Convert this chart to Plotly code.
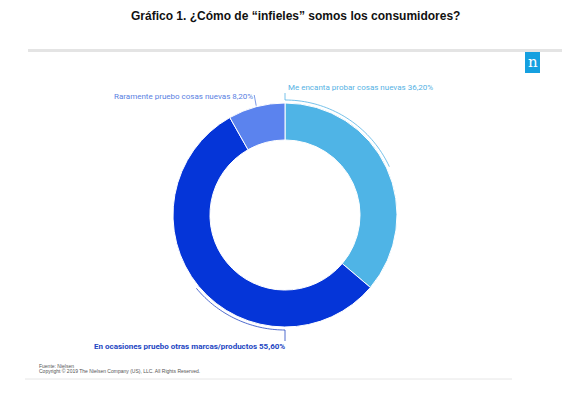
import math
import plotly.graph_objects as go

# ---- data ----
labels = ["Me encanta probar cosas nuevas", "En ocasiones pruebo otras marcas/productos", "Raramente pruebo cosas nuevas"]
values = [36.2, 55.6, 8.2]
value_text = ["36,20%", "55,60%", "8,20%"]
colors = ["#4FB4E6", "#0535D8", "#5B83EE"]
label_colors = ["#56B2E4", "#2346C2", "#5A7FE2"]
title = "Gráfico 1. ¿Cómo de “infieles” somos los consumidores?"
source = "Fuente: Nielsen"
copyright_txt = "Copyright © 2019 The Nielsen Company (US), LLC. All Rights Reserved."

# page body has an 8px default margin: the figure canvas starts at (8, 8)
OFF = 8
W, H = 588 - OFF, 394 - OFF
CX, CY, R = 285, 215, 112
HOLE = 0.67


def px(x):
    return (x - OFF) / W


def py(y):
    return 1 - (y - OFF) / H


fig = go.Figure()
fig.add_trace(go.Pie(
    labels=labels, values=values, sort=False, direction="clockwise", rotation=0,
    hole=HOLE, textinfo="none", hoverinfo="label+percent",
    marker=dict(colors=colors, line=dict(color="white", width=1)),
    domain=dict(x=[px(CX - R), px(CX + R)], y=[py(CY + R), py(CY - R)]),
    showlegend=False,
))

# slice angles (clockwise from 12 o'clock, degrees)
total = sum(values)
mids = []
acc = 0
for v in values:
    mids.append((acc + v / 2) / total * 360)
    acc += v


def pt(angle, r):
    a = math.radians(angle)
    return CX + r * math.sin(a), CY - r * math.cos(a)


def arc_path(a0, a1, r, extra=None):
    n = 40
    pts = [pt(a0 + (a1 - a0) * i / n, r) for i in range(n + 1)]
    if extra:
        pts += extra
    return "M " + " L ".join(f"{px(x):.5f},{py(y):.5f}" for x, y in pts)


RL = R + 3
shapes = []
annotations = []
LBL_SIZE = 8

# leader 0: light blue, from mid angle back to top, then up
top_y = 93
d0 = arc_path(mids[0], 0, RL, extra=[(CX, top_y)])
shapes.append(dict(type="path", path=d0, xref="paper", yref="paper",
                   line=dict(color=label_colors[0], width=0.8)))
annotations.append(dict(x=px(CX + 1), y=py(top_y + 1), xref="paper", yref="paper",
                        xanchor="left", yanchor="bottom", showarrow=False,
                        text=f"{labels[0]} {value_text[0]}",
                        font=dict(family="Roboto", size=LBL_SIZE, color=label_colors[0])))

# leader 1: dark, from mid angle to bottom, then down
bot_y = 341
d1 = arc_path(mids[1], 180, RL, extra=[(CX, bot_y)])
shapes.append(dict(type="path", path=d1, xref="paper", yref="paper",
                   line=dict(color=label_colors[1], width=0.8)))
annotations.append(dict(x=px(CX + 2), y=py(bot_y - 1), xref="paper", yref="paper",
                        xanchor="right", yanchor="top", showarrow=False,
                        text=f"<b>{labels[1]} {value_text[1]}</b>",
                        font=dict(family="Roboto", size=LBL_SIZE, color=label_colors[1])))

# leader 2: medium, short line from slice outward to label
x2a, y2a = pt(mids[2], R + 1)
x2b, y2b = x2a - 2, 95
shapes.append(dict(type="line", x0=px(x2a), y0=py(y2a), x1=px(x2b), y1=py(y2b),
                   xref="paper", yref="paper",
                   line=dict(color=label_colors[2], width=0.8)))
annotations.append(dict(x=px(x2b + 1), y=py(y2b + 2), xref="paper", yref="paper",
                        xanchor="right", yanchor="middle", showarrow=False,
                        text=f"{labels[2]} {value_text[2]}",
                        font=dict(family="Roboto", size=LBL_SIZE, color=label_colors[2])))

# decorations: top grey bar, bottom rule, logo
shapes.append(dict(type="line", x0=px(28), x1=px(562), y0=py(50.5), y1=py(50.5),
                   xref="paper", yref="paper", line=dict(color="#E4E4E4", width=3)))
shapes.append(dict(type="line", x0=px(25), x1=px(512), y0=py(379), y1=py(379),
                   xref="paper", yref="paper", line=dict(color="#E6E6E6", width=1)))
shapes.append(dict(type="rect", x0=px(525), x1=px(540), y0=py(73), y1=py(52),
                   xref="paper", yref="paper", fillcolor="#15A0E0", line=dict(width=0)))
annotations.append(dict(x=px(532.5), y=py(62), xref="paper", yref="paper",
                        xanchor="center", yanchor="middle", showarrow=False,
                        text="n", font=dict(family="DejaVu Serif", size=15, color="white")))

# title
annotations.append(dict(x=px(295), y=py(16), xref="paper", yref="paper",
                        xanchor="center", yanchor="middle", showarrow=False,
                        text=f"<b>{title}</b>",
                        font=dict(family="Liberation Sans", size=12, color="#111111")))

# source / copyright
annotations.append(dict(x=px(37), y=py(366), xref="paper", yref="paper",
                        xanchor="left", yanchor="middle", showarrow=False,
                        text=source, font=dict(family="Liberation Sans", size=5, color="#555555")))
annotations.append(dict(x=px(37), y=py(371), xref="paper", yref="paper",
                        xanchor="left", yanchor="middle", showarrow=False,
                        text=copyright_txt, font=dict(family="Liberation Sans", size=5, color="#555555")))

fig.update_layout(
    width=W, height=H, margin=dict(l=0, r=0, t=0, b=0),
    paper_bgcolor="white", plot_bgcolor="white",
    shapes=shapes, annotations=annotations,
)

fig.write_html("out.html")
